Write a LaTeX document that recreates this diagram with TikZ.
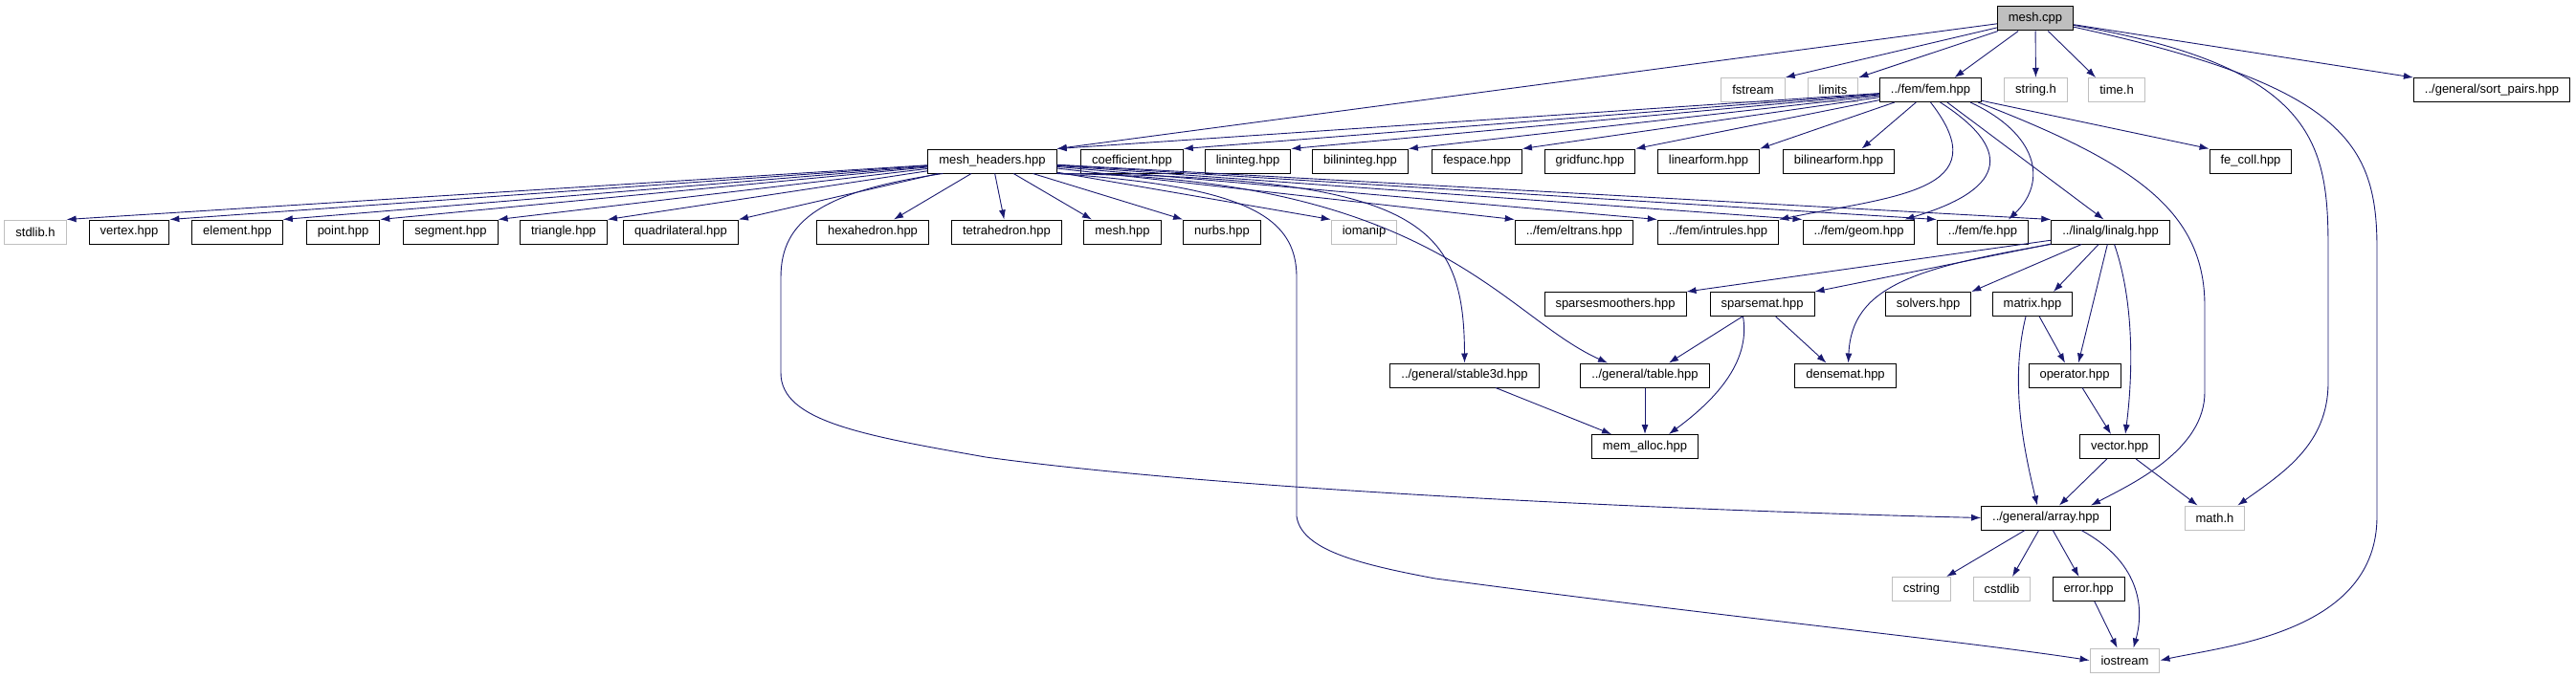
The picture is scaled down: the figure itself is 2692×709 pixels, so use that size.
\documentclass[tikz,border=0pt]{standalone}
\usepackage{fontspec}
\setmainfont{Liberation Sans}
\usetikzlibrary{arrows.meta}
\definecolor{edgeblue}{HTML}{191970}
\definecolor{sysgray}{HTML}{BFBFBF}
\begin{document}
\begin{tikzpicture}[x=1pt,y=-1pt]
    \tikzset{%
        n/.style={draw, line width=1pt, minimum height=25pt, inner xsep=11.5pt, inner ysep=0pt, font=\fontsize{13}{15}\selectfont},
        sys/.style={n, draw=sysgray},
        e/.style={-{Latex[length=10pt,width=7pt]}, draw=edgeblue, line width=0.9pt}%
        }
    \useasboundingbox (0,0) rectangle (2692,709);
    % row 1
    \node[n, fill=sysgray](r)at(2127,19.5){mesh.cpp};
    % row 2
    \node[sys](fstream)at(1832,94){fstream};
    \node[sys](limits)at(1915.5,94){limits};
    \node[n](fem)at(2017.5,94){../fem/fem.hpp};
    \node[sys](string)at(2127.5,94){string.h};
    \node[sys](time)at(2212,94){time.h};
    \node[n](sortpairs)at(2604,94){../general/sort\_pairs.hpp};
    % row 3
    \node[n](mh)at(1037,168.5){mesh\_headers.hpp};
    \node[n](coef)at(1183,168.5){coefficient.hpp};
    \node[n](lininteg)at(1304,168.5){lininteg.hpp};
    \node[n](bilininteg)at(1421.5,168.5){bilininteg.hpp};
    \node[n](fespace)at(1543.5,168.5){fespace.hpp};
    \node[n](gridfunc)at(1661.5,168.5){gridfunc.hpp};
    \node[n](linform)at(1785.5,168.5){linearform.hpp};
    \node[n](bilinform)at(1921.5,168.5){bilinearform.hpp};
    \node[n](fecoll)at(2352,168.5){fe\_coll.hpp};
    % row 4
    \node[sys](stdlib)at(37,242.5){stdlib.h};
    \node[n](vertex)at(135,242.5){vertex.hpp};
    \node[n](element)at(248,242.5){element.hpp};
    \node[n](point)at(358.5,242.5){point.hpp};
    \node[n](segment)at(471,242.5){segment.hpp};
    \node[n](triangle)at(589,242.5){triangle.hpp};
    \node[n](quad)at(711.5,242.5){quadrilateral.hpp};
    \node[n](hexa)at(912,242.5){hexahedron.hpp};
    \node[n](tetra)at(1052,242.5){tetrahedron.hpp};
    \node[n](mesh)at(1173,242.5){mesh.hpp};
    \node[n](nurbs)at(1277,242.5){nurbs.hpp};
    \node[sys](iomanip)at(1425.5,242.5){iomanip};
    \node[n](eltrans)at(1645,242.5){../fem/eltrans.hpp};
    \node[n](intrules)at(1795.5,242.5){../fem/intrules.hpp};
    \node[n](geom)at(1942.5,242.5){../fem/geom.hpp};
    \node[n](fe)at(2072,242.5){../fem/fe.hpp};
    \node[n](linalg)at(2205.5,242.5){../linalg/linalg.hpp};
    % row 5
    \node[n](ssmooth)at(1688,318){sparsesmoothers.hpp};
    \node[n](sparsemat)at(1841.5,318){sparsemat.hpp};
    \node[n](solvers)at(2015,318){solvers.hpp};
    \node[n](matrix)at(2124,318){matrix.hpp};
    % row 6
    \node[n](stable)at(1530.5,392.5){../general/stable3d.hpp};
    \node[n](table)at(1719,392.5){../general/table.hpp};
    \node[n](densemat)at(1928.5,392.5){densemat.hpp};
    \node[n](oper)at(2168,392.5){operator.hpp};
    % row 7
    \node[n](memalloc)at(1719,467){mem\_alloc.hpp};
    \node[n](vector)at(2215,467){vector.hpp};
    % row 8
    \node[n](array)at(2138,541.5){../general/array.hpp};
    \node[sys](math)at(2314.5,541.5){math.h};
    % row 9
    \node[sys](cstring)at(2008,616){cstring};
    \node[sys](cstdlib)at(2092,616){cstdlib};
    \node[n](error)at(2182.5,616){error.hpp};
    % row 10
    \node[sys](iostream)at(2220.5,690.5){iostream};
    % straight edges
    \path
    (r)edge[e](mh.north east)
    (r)edge[e](fstream.north east)
    (r)edge[e](limits.north east)
    (r)edge[e]([xshift=25pt]fem.north)
    (r)edge[e](string)
    (r)edge[e]([xshift=-22pt]time.north)
    (r)edge[e](sortpairs.north west)
    (fem)edge[e](mh.north east)
    (fem)edge[e](coef.north east)
    (fem)edge[e](lininteg.north east)
    (fem)edge[e](bilininteg.north east)
    (fem)edge[e](fespace.north east)
    (fem)edge[e](gridfunc.north east)
    (fem)edge[e](linform.north east)
    (fem)edge[e]([xshift=24pt]bilinform.north)
    (fem)edge[e](fecoll.north west)
    (fem)edge[e]([xshift=-7pt]linalg.north)
    (mh)edge[e](stdlib.north east)
    (mh)edge[e](vertex.north east)
    (mh)edge[e](element.north east)
    (mh)edge[e](point.north east)
    (mh)edge[e](segment.north east)
    (mh)edge[e](triangle.north east)
    (mh)edge[e](quad.north east)
    (mh)edge[e]([xshift=22pt]hexa.north)
    (mh)edge[e](tetra)
    (mh)edge[e]([xshift=-32pt]mesh.north)
    (mh)edge[e](nurbs.north west)
    (mh)edge[e](iomanip.north west)
    (mh)edge[e](eltrans.north west)
    (mh)edge[e](intrules.north west)
    (mh)edge[e](geom.north west)
    (mh)edge[e](fe.north west)
    (mh)edge[e](linalg.north west)
    (linalg)edge[e](ssmooth.north east)
    (linalg)edge[e](sparsemat.north east)
    (linalg)edge[e](solvers.north east)
    (linalg)edge[e]([xshift=22pt]matrix.north)
    (linalg)edge[e]([xshift=4pt]oper.north)
    (sparsemat)edge[e]([xshift=25pt]table.north)
    (sparsemat)edge[e]([xshift=-20pt]densemat.north)
    (stable)edge[e]([xshift=-35pt]memalloc.north)
    (table)edge[e](memalloc)
    (matrix)edge[e]([xshift=-10pt]oper.north)
    (oper)edge[e]([xshift=-9pt]vector.north)
    (vector)edge[e]([xshift=14pt]array.north)
    (vector)edge[e]([xshift=-18pt]math.north)
    (array)edge[e]([xshift=-5pt]cstring.north east)
    (array)edge[e]([xshift=11pt]cstdlib.north)
    (array)edge[e]([xshift=-10pt]error.north)
    (error)edge[e]([xshift=-8pt]iostream.north);
    % curved edges
    \draw[e](r) .. controls (2420,70) and (2433,150) .. (2433,260) -- (2433,400) .. controls (2433,465) and (2385,495) .. ([xshift=-8pt]math.north east);
    \draw[e](r) .. controls (2450,90) and (2484,150) .. (2484,260) -- (2484,540) .. controls (2484,660) and (2330,675) .. (iostream.east);
    \draw[e](fem.south) .. controls (2090,200) and (1980,205) .. (intrules.north east);
    \draw[e]([xshift=10pt]fem.south) .. controls (2110,160) and (2090,200) .. ([xshift=-11pt]geom.north east);
    \draw[e]([xshift=-12pt]fem.south east) .. controls (2130,140) and (2140,190) .. ([xshift=27pt]fe.north);
    \draw[e]([xshift=-4pt]fem.south east) .. controls (2230,170) and (2304,220) .. (2304,320) -- (2304,410) .. controls (2304,470) and (2230,505) .. ([xshift=47pt]array.north);
    \draw[e](mh.south east) .. controls (1480,185) and (1530,230) .. (stable.north);
    \draw[e](mh.south east) .. controls (1500,185) and (1570,330) .. ([xshift=-39pt]table.north);
    \draw[e]([xshift=16pt]mh.south west) .. controls (860,200) and (816,230) .. (816,290) -- (816,390) .. controls (816,440) and (900,455) .. (1030,478) .. controls (1300,515) and (1800,535) .. (array.west);
    \draw[e](mh.south east) .. controls (1300,195) and (1355,225) .. (1355,290) -- (1355,540) .. controls (1360,575) and (1420,590) .. (1500,605) .. controls (1800,645) and (2050,670) .. (iostream.west);
    \draw[e](linalg.south west) .. controls (2000,280) and (1935,300) .. ([xshift=3pt]densemat.north);
    \draw[e]([xshift=4pt]linalg.south) .. controls (2232,320) and (2228,400) .. ([xshift=6pt]vector.north);
    \draw[e]([xshift=-20pt]sparsemat.south) .. controls (1830,380) and (1790,420) .. ([xshift=25pt]memalloc.north);
    \draw[e]([xshift=-7pt]matrix.south) .. controls (2100,400) and (2115,470) .. ([xshift=-9pt]array.north);
    \draw[e]([xshift=37pt]array.south) .. controls (2240,590) and (2240,640) .. ([xshift=9pt]iostream.north);
\end{tikzpicture}
\end{document}
